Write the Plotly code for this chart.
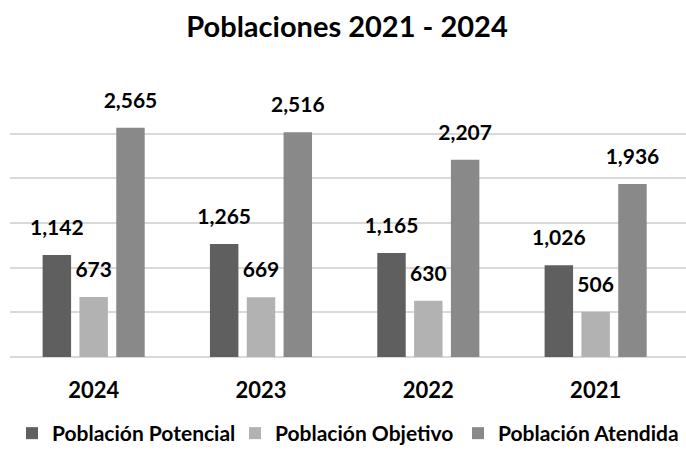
import plotly.graph_objects as go

years = ["2024", "2023", "2022", "2021"]
potencial = [1142, 1265, 1165, 1026]
objetivo = [673, 669, 630, 506]
atendida = [2565, 2516, 2207, 1936]
series_names = ["Población Potencial", "Población Objetivo", "Población Atendida"]
colors = ["#5f5f5f", "#b2b2b2", "#898989"]

FONT = "Lato, Open Sans, sans-serif"

fig = go.Figure()
for name, vals, col in zip(series_names, [potencial, objetivo, atendida], colors):
    fig.add_trace(go.Bar(
        x=years, y=vals, name=name, marker_color=col, marker_line_width=0,
        offsetgroup=name, hoverinfo="skip",
    ))
for name, vals in zip(series_names, [potencial, objetivo, atendida]):
    fig.add_trace(go.Scatter(
        x=years, y=vals, name=name, offsetgroup=name, mode="markers+text",
        marker=dict(size=22, opacity=0), showlegend=False, hoverinfo="skip",
        text=[f"{v:,}" for v in vals], textposition="top center", cliponaxis=False,
        textfont=dict(family=FONT, size=21, color="#000000", weight="bold"),
    ))

W, H = 686, 450
L, R, T, B = 10, 0, 89, 93
fig.update_layout(
    width=W, height=H,
    margin=dict(l=L, r=R, t=T, b=B, autoexpand=False),
    paper_bgcolor="white", plot_bgcolor="white",
    barmode="group", bargap=0.34, bargroupgap=0.227,
    scattermode="group", scattergap=0.34,
    title=dict(text="Poblaciones 2021 - 2024", xref="container", x=347 / W,
               xanchor="center", yref="container", y=1 - 27 / H, yanchor="middle",
               font=dict(family=FONT, size=29, color="#000000", weight="bold")),
    legend=dict(orientation="h", xref="container", x=12 / W, xanchor="left",
                yref="paper", y=-(454 - 357) / (H - T - B), yanchor="bottom",
                font=dict(family=FONT, size=21, color="#000000", weight="bold"),
                entrywidth=178, entrywidthmode="pixels",
                itemwidth=30, tracegroupgap=0, traceorder="normal"),
    showlegend=True,
)
fig.update_xaxes(range=[-0.5, 3.54], showgrid=False, showline=False, ticks="",
                 ticklabelstandoff=18,
                 tickfont=dict(family=FONT, size=22, color="#000000", weight="bold"))
fig.update_yaxes(range=[0, 3000], dtick=500, showgrid=True, gridcolor="#d9d9d9",
                 gridwidth=2, showticklabels=False, zeroline=True,
                 zerolinecolor="#d9d9d9", zerolinewidth=2, showline=False)

fig.write_html("out.html", config={"displayModeBar": False},
               post_script="document.body.style.margin='0';document.body.style.overflow='hidden';")
